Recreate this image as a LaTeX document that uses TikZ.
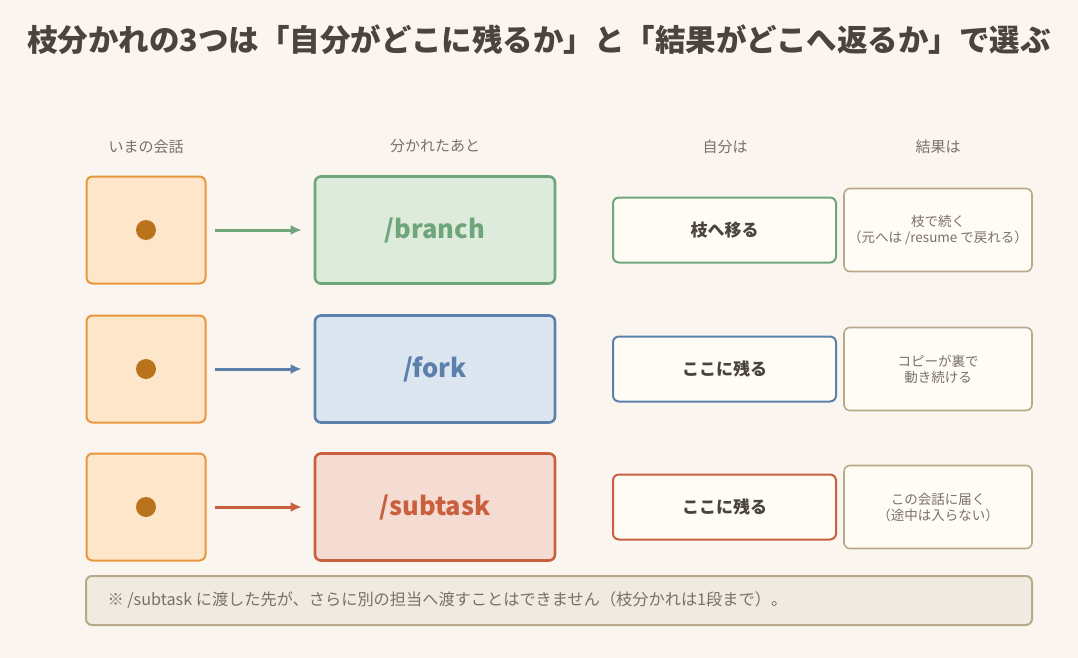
\documentclass[tikz,border=0pt]{standalone}
\usepackage{fontspec}
\usetikzlibrary{arrows.meta}
\setmainfont{Noto Sans CJK JP}
\definecolor{bg}{HTML}{FAF6EF}
\definecolor{ink}{HTML}{4A4340}
\definecolor{gr}{HTML}{7A7068}
\definecolor{orf}{HTML}{FDE6C9}\definecolor{orb}{HTML}{E8973E}\definecolor{dot}{HTML}{B8731C}
\definecolor{gf}{HTML}{DCEBDC}\definecolor{gb}{HTML}{6FA57A}
\definecolor{bf}{HTML}{DCE6F0}\definecolor{bb}{HTML}{5B80AB}
\definecolor{rf}{HTML}{F5DCD3}\definecolor{rb}{HTML}{C8603F}
\definecolor{wf}{HTML}{FFFCF5}\definecolor{tb}{HTML}{B8A98A}
\definecolor{nf}{HTML}{EFEBE0}
\begin{document}
\begin{tikzpicture}[x=1pt,y=-1pt,
 hdr/.style={font=\fontsize{15}{18}\selectfont,text=gr},
 cur/.style={draw=orb,fill=orf,line width=2pt,rounded corners=6pt,minimum width=119pt,minimum height=107pt},
 mid/.style={line width=2.6pt,rounded corners=6pt,minimum width=240pt,minimum height=107pt,font=\fontsize{25.5}{30}\selectfont\bfseries},
 self/.style={fill=wf,line width=2pt,rounded corners=6pt,minimum width=223pt,minimum height=65pt,font=\fontsize{17}{20}\selectfont\bfseries,text=ink},
 res/.style={draw=tb,fill=wf,line width=1.6pt,rounded corners=6pt,minimum width=188pt,minimum height=83pt,inner xsep=1pt,font=\fontsize{13.5}{16}\selectfont,text=gr,align=center},
 arr/.style={line width=3pt,-{Latex[length=11pt,width=10pt]}}]
\useasboundingbox[fill=bg] (0,0) rectangle (1078,658);
\node[font=\fontsize{30.5}{34}\selectfont\bfseries,text=ink] (title) at (539,40) {枝分かれの3つは「自分がどこに残るか」と「結果がどこへ返るか」で選ぶ};
\node[hdr] (h1) at (146,147) {いまの会話};
\node[hdr] (h2) at (435,146) {分かれたあと};
\node[hdr] (h3) at (725,147) {自分は};
\node[hdr] (h4) at (938,147) {結果は};
\foreach \i/\y/\f/\b/\t/\s/\r in {1/230/gf/gb/{/branch}/{枝へ移る}/{枝で続く\\（元へは /resume で戻れる）},2/369/bf/bb/{/fork}/{ここに残る}/{コピーが裏で\\動き続ける},3/507/rf/rb/{/subtask}/{ここに残る}/{この会話に届く\\（途中は入らない）}}{
 \node[cur] (c\i) at (146,\y) {};
 \fill[dot] (c\i.center) circle (10);
 \node[mid,draw=\b,fill=\f,text=\b] (m\i) at (435,\y) {\t};
 \draw[arr,draw=\b] ([xshift=8pt]c\i.east) -- ([xshift=-12pt]m\i.west);
 \node[self,draw=\b] (s\i) at (724.5,\y) {\s};
 \node[res] (r\i) at (938,\y) {\r};
}
\node[draw=tb,fill=nf,line width=2pt,rounded corners=6pt,minimum width=946pt,minimum height=49pt] (note) at (559,600.5) {};
\node[anchor=west,font=\fontsize{16.2}{18}\selectfont,text=gr] (nt) at (104,600.5) {※ /subtask に渡した先が、さらに別の担当へ渡すことはできません（枝分かれは1段まで）。};
\end{tikzpicture}
\end{document}
